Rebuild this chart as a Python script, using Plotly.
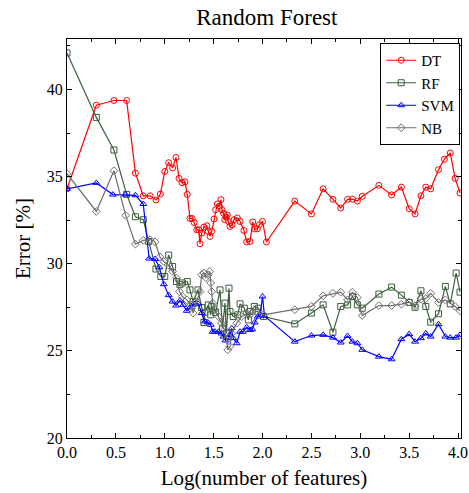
import plotly.graph_objects as go

# ---- data ----
dt_x = [0, 0.30, 0.48, 0.61, 0.70, 0.78, 0.85, 0.91, 0.955, 1.0, 1.04, 1.08, 1.115, 1.146, 1.176, 1.207, 1.23,
        1.258, 1.28, 1.30, 1.327, 1.347, 1.36, 1.378, 1.40, 1.43, 1.445, 1.463, 1.48, 1.504, 1.52, 1.538, 1.558,
        1.575, 1.586, 1.60, 1.613, 1.627, 1.64, 1.65, 1.667, 1.688, 1.708, 1.742, 1.77, 1.81, 1.838, 1.872, 1.90,
        1.92, 1.947, 1.967, 2.00, 2.04, 2.33, 2.50, 2.62, 2.72, 2.80, 2.87, 2.92, 2.97, 3.02, 3.19, 3.32, 3.42,
        3.50, 3.56, 3.62, 3.67, 3.72, 3.80, 3.86, 3.92, 3.97, 4.02]
dt_y = [34.3, 39.1, 39.37, 39.37, 35.2, 33.9, 33.9, 33.66, 34.0, 35.3, 35.8, 35.5, 36.1, 34.9, 34.65, 34.7, 33.98,
        32.6, 32.6, 32.37, 31.95, 31.95, 31.15, 31.76, 32.1, 32.18, 31.86, 31.57, 31.86, 32.57, 33.1, 33.43, 33.3,
        33.68, 33.1, 32.9, 32.53, 32.68, 32.8, 32.43, 32.14, 32.24, 32.53, 32.63, 32.43, 31.91, 31.25, 31.28, 32.4,
        32.0, 32.0, 32.24, 32.43, 31.25, 33.6, 32.86, 34.3, 33.7, 33.2, 33.7, 33.7, 33.6, 33.87, 34.5, 33.95, 34.4,
        33.16, 32.86, 33.9, 34.4, 34.3, 35.4, 36.0, 36.36, 34.9, 34.06]

rf_x = [0, 0.30, 0.48, 0.61, 0.70, 0.78, 0.835, 0.91, 0.96, 1.0, 1.04, 1.08, 1.12, 1.155, 1.18, 1.23, 1.258, 1.29,
        1.34, 1.378, 1.40, 1.41, 1.445, 1.47, 1.48, 1.52, 1.565, 1.59, 1.616, 1.63, 1.657, 1.667, 1.70, 1.746, 1.77,
        1.814, 1.855, 1.872, 1.916, 1.957, 2.01, 2.33, 2.50, 2.62, 2.72, 2.80, 2.87, 2.92, 2.97, 3.02, 3.19, 3.32,
        3.42, 3.50, 3.56, 3.62, 3.67, 3.72, 3.80, 3.87, 3.92, 3.98, 4.02]
rf_y = [42.1, 38.4, 36.53, 33.98, 32.7, 32.53, 31.28, 29.7, 29.27, 29.27, 30.5, 29.84, 28.98, 28.8, 28.9, 28.98,
        28.5, 27.83, 28.5, 27.49, 26.63, 27.22, 27.64, 27.07, 27.55, 27.2, 28.5, 26.3, 27.74, 26.0, 28.6, 27.26,
        26.97, 27.07, 27.7, 27.45, 26.78, 27.26, 27.55, 27.45, 26.97, 26.55, 27.17, 27.64, 26.07, 27.55, 27.64,
        28.12, 27.64, 27.45, 28.26, 28.66, 28.2, 27.78, 27.5, 28.45, 27.55, 26.65, 27.13, 28.7, 27.7, 29.47, 28.37]

svm_x = [0, 0.30, 0.47, 0.60, 0.70, 0.78, 0.84, 0.90, 0.945, 0.99, 1.04, 1.08, 1.115, 1.156, 1.19, 1.225, 1.258,
         1.286, 1.31, 1.343, 1.378, 1.41, 1.44, 1.47, 1.49, 1.514, 1.55, 1.58, 1.60, 1.62, 1.65, 1.667, 1.685, 1.70,
         1.736, 1.77, 1.80, 1.838, 1.872, 1.895, 1.92, 1.95, 1.974, 2.0, 2.02, 2.33, 2.50, 2.62, 2.72, 2.80, 2.87,
         2.92, 2.97, 3.02, 3.19, 3.32, 3.42, 3.50, 3.56, 3.62, 3.67, 3.72, 3.80, 3.87, 3.92, 3.98, 4.02]
svm_y = [34.3, 34.64, 33.97, 33.97, 33.93, 33.43, 30.3, 30.27, 29.8, 28.83, 28.2, 27.83, 27.6, 27.9, 27.64, 27.3,
         27.49, 27.64, 27.7, 27.7, 27.17, 26.69, 26.63, 26.5, 26.1, 26.1, 26.1, 26.0, 25.82, 25.6, 25.73, 25.92,
         26.3, 25.73, 25.44, 26.1, 26.1, 26.36, 26.2, 26.24, 26.63, 26.97, 27.07, 28.12, 27.0, 25.53, 25.88, 25.92,
         25.76, 25.48, 25.86, 25.53, 25.44, 25.06, 24.67, 24.52, 25.67, 25.96, 25.53, 25.73, 26.0, 25.82, 26.53,
         25.82, 25.76, 25.76, 25.92]

nb_x = [0, 0.30, 0.48, 0.60, 0.70, 0.78, 0.85, 0.90, 0.95, 0.99, 1.035, 1.08, 1.12, 1.15, 1.18, 1.225, 1.27, 1.29,
        1.327, 1.36, 1.378, 1.40, 1.42, 1.445, 1.46, 1.47, 1.48, 1.49, 1.514, 1.55, 1.58, 1.61, 1.634, 1.644, 1.667,
        1.685, 1.736, 1.787, 1.838, 1.89, 1.94, 2.01, 2.33, 2.50, 2.62, 2.72, 2.80, 2.87, 2.92, 2.97, 3.02, 3.19,
        3.32, 3.42, 3.50, 3.56, 3.62, 3.67, 3.72, 3.80, 3.87, 3.97, 4.02]
nb_y = [35.17, 33.0, 35.34, 32.78, 31.13, 31.34, 31.38, 31.26, 30.4, 30.13, 29.94, 29.56, 29.18, 28.4, 28.12, 27.93,
        27.64, 27.17, 27.83, 28.4, 29.37, 29.47, 29.2, 29.37, 29.56, 28.9, 28.4, 27.74, 27.36, 26.97, 26.59, 26.2,
        25.63, 25.06, 25.25, 26.0, 26.59, 26.97, 27.17, 27.17, 27.26, 27.07, 27.36, 27.55, 28.16, 28.3, 28.37,
        27.93, 28.37, 28.06, 27.03, 27.6, 27.6, 27.68, 27.8, 27.59, 27.97, 28.0, 28.3, 27.78, 27.93, 27.55, 27.3]

x_ticks = [0.0, 0.5, 1.0, 1.5, 2.0, 2.5, 3.0, 3.5, 4.0]
y_ticks = [20, 25, 30, 35, 40]

series = [
    ("DT", dt_x, dt_y, "#ff0000", "circle-open"),
    ("RF", rf_x, rf_y, "#3d5f3d", "square-open"),
    ("SVM", svm_x, svm_y, "#0000ff", "triangle-up-open"),
    ("NB", nb_x, nb_y, "#6e6e6e", "diamond-open"),
]

fig = go.Figure()
for name, xs, ys, col, sym in series:
    fig.add_trace(go.Scatter(
        x=xs, y=ys, name=name, mode="lines+markers",
        line=dict(color=col, width=1.2),
        marker=dict(symbol=sym, size=6, color=col, line=dict(width=1, color=col)),
    ))

font = "Liberation Serif"
axis_common = dict(
    showline=True, linecolor="black", linewidth=1, mirror="allticks",
    ticks="inside", ticklen=5, tickcolor="black", showgrid=False, zeroline=False,
    automargin=False,
    tickfont=dict(family=font, size=16, color="black"),
)
fig.update_layout(
    width=469, height=493,
    margin=dict(l=67, r=8, t=39, b=55),
    paper_bgcolor="white", plot_bgcolor="white",
    title=dict(text="Random Forest", x=0.569, xanchor="center", y=0.966, yanchor="middle",
               font=dict(family=font, size=23, color="black"), automargin=False),
    font=dict(family=font, color="black"),
    showlegend=True,
    legend=dict(x=0.998, y=0.99, xanchor="right", yanchor="top",
                bgcolor="white", bordercolor="black", borderwidth=1,
                font=dict(family=font, size=15, color="black"),
                itemwidth=30, tracegroupgap=0),
    xaxis=dict(range=[0, 4.03], tickvals=x_ticks, ticktext=[f"{v:.1f}" for v in x_ticks],
               minor=dict(dtick=0.25, tick0=0, ticks="inside", ticklen=3, tickcolor="black"),
               title=dict(text="Log(number of features)", font=dict(family=font, size=21, color="black"),
                          standoff=10),
               **axis_common),
    yaxis=dict(range=[20, 42.9], tickvals=y_ticks,
               minor=dict(dtick=2.5, tick0=20, ticks="inside", ticklen=3, tickcolor="black"),
               title=dict(text="Error [%]", font=dict(family=font, size=21, color="black"), standoff=10),
               **axis_common),
)

fig.write_html("out.html")
